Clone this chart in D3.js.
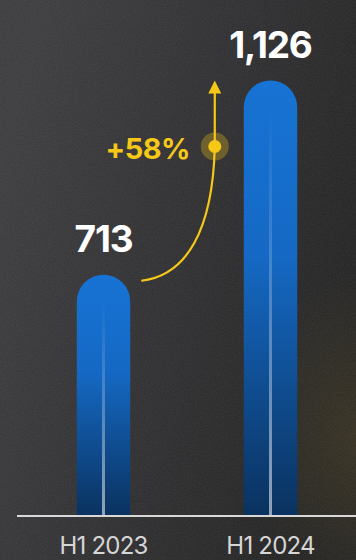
<!DOCTYPE html>
<html><head><meta charset="utf-8">
<script src="https://cdn.jsdelivr.net/npm/d3@7"></script>
<style>html,body{margin:0;padding:0;background:#262628;}svg{display:block;}</style>
</head><body>
<script>
const categories = ["H1 2023", "H1 2024"];
const values = [713, 1126];
const valueLabels = ["713", "1,126"];
const growthLabel = "+58%";

const W = 356, H = 560;
const svg = d3.select("body").append("svg").attr("width", W).attr("height", H);
const defs = svg.append("defs");

// background
const bg = defs.append("linearGradient").attr("id","bg").attr("x1",0).attr("y1",0.3).attr("x2",1).attr("y2",0.7);
bg.append("stop").attr("offset","0%").attr("stop-color","#3a3a3c");
bg.append("stop").attr("offset","50%").attr("stop-color","#2c2c2e");
bg.append("stop").attr("offset","100%").attr("stop-color","#1f1f1f");
const glow = defs.append("radialGradient").attr("id","glow").attr("cx",1.0).attr("cy",0.78).attr("r",0.3);
glow.append("stop").attr("offset","0%").attr("stop-color","#5a4a1e").attr("stop-opacity",0.35);
glow.append("stop").attr("offset","100%").attr("stop-color","#5a4a1e").attr("stop-opacity",0);
const noise = defs.append("filter").attr("id","noise").attr("x",0).attr("y",0).attr("width","100%").attr("height","100%");
noise.append("feTurbulence").attr("type","fractalNoise").attr("baseFrequency",0.9).attr("numOctaves",2).attr("seed",3);
noise.append("feColorMatrix").attr("type","matrix").attr("values","0 0 0 0 1  0 0 0 0 1  0 0 0 0 1  0 0 0 0.09 0");

svg.append("rect").attr("width",W).attr("height",H).attr("fill","url(#bg)");
svg.append("rect").attr("width",W).attr("height",H).attr("fill","url(#glow)");
svg.append("rect").attr("width",W).attr("height",H).attr("filter","url(#noise)");

// bar gradient
const bgGrad = defs.append("linearGradient").attr("id","barg").attr("x1",0).attr("y1",0).attr("x2",0).attr("y2",1);
bgGrad.append("stop").attr("offset","0%").attr("stop-color","#1773d4");
bgGrad.append("stop").attr("offset","40%").attr("stop-color","#1569c4");
bgGrad.append("stop").attr("offset","100%").attr("stop-color","#0a325f");
const lineGrad = defs.append("linearGradient").attr("id","lineg").attr("x1",0).attr("y1",0).attr("x2",0).attr("y2",1);
lineGrad.append("stop").attr("offset","0%").attr("stop-color","#ffffff").attr("stop-opacity",0);
lineGrad.append("stop").attr("offset","30%").attr("stop-color","#ffffff").attr("stop-opacity",0.15);
lineGrad.append("stop").attr("offset","100%").attr("stop-color","#ffffff").attr("stop-opacity",0.55);

const baseY = 516;
const x = d3.scaleBand().domain(categories).range([20, 354]).paddingInner(0.68).paddingOuter(0.34);
const y = d3.scaleLinear().domain([200, 1126]).range([baseY, 80.5]);
const bw = x.bandwidth();

function barPath(x0, top, w, bottom) {
  const r = w / 2;
  return `M${x0},${bottom} L${x0},${top + r} A${r},${r} 0 0 1 ${x0 + w},${top + r} L${x0 + w},${bottom} Z`;
}

const g = svg.append("g");
categories.forEach((c, i) => {
  const x0 = x(c), top = y(values[i]);
  g.append("path").attr("d", barPath(x0, top, bw, baseY)).attr("fill", "url(#barg)");
  g.append("rect").attr("x", x0 + bw/2 - 1.5).attr("y", top + bw/2).attr("width", 3)
    .attr("height", baseY - top - bw/2).attr("fill", "url(#lineg)");
  g.append("text").attr("x", x0 + bw/2).attr("y", top - 23)
    .attr("text-anchor","middle").attr("fill","#ffffff")
    .attr("font-family","Inter, 'Open Sans', sans-serif").attr("font-weight",700)
    .attr("font-size",37).attr("letter-spacing",-1.2).text(valueLabels[i]);
});

// axis
const axis = svg.append("g").attr("transform", `translate(0,${baseY})`)
  .call(d3.axisBottom(x).tickSize(0).tickPadding(30));
axis.select(".domain").attr("d", `M17,0H356`).attr("stroke","#d8d8d8").attr("stroke-width",2.2);
axis.selectAll("text").attr("fill","#d6d6d6").attr("font-family","Inter, 'Open Sans', sans-serif")
  .attr("font-size",24).attr("letter-spacing",-0.8).attr("dy","0.32em");

// growth arrow
const yel = "#f5c818";
const c0 = categories[0], c1 = categories[1];
const sx = x(c0) + bw + 11, sy = y(values[0]) + 6;
const ex = x(c1) - 29;
const dotY = y(values[1]) + 66, tipY = y(values[1]);
const curve = d3.path();
curve.moveTo(sx, sy);
curve.bezierCurveTo(sx + 45, sy - 5, ex - 2, sy - 50, ex, dotY);
curve.lineTo(ex, tipY + 12);
svg.append("path").attr("d", curve.toString()).attr("fill","none").attr("stroke",yel).attr("stroke-width",2.2);
svg.append("path").attr("d", `M${ex - 6.5},${tipY + 13} L${ex},${tipY} L${ex + 6.5},${tipY + 13} Z`).attr("fill",yel);
svg.append("circle").attr("cx",ex).attr("cy",dotY).attr("r",14).attr("fill",yel).attr("opacity",0.3);
svg.append("circle").attr("cx",ex).attr("cy",dotY).attr("r",6.5).attr("fill",yel);
svg.append("text").attr("x", ex - 25).attr("y", dotY + 12).attr("text-anchor","end")
  .attr("fill",yel).attr("font-family","Inter, 'Open Sans', sans-serif").attr("font-weight",700)
  .attr("font-size",29).attr("letter-spacing",-0.6).text(growthLabel);
</script>
</body></html>
